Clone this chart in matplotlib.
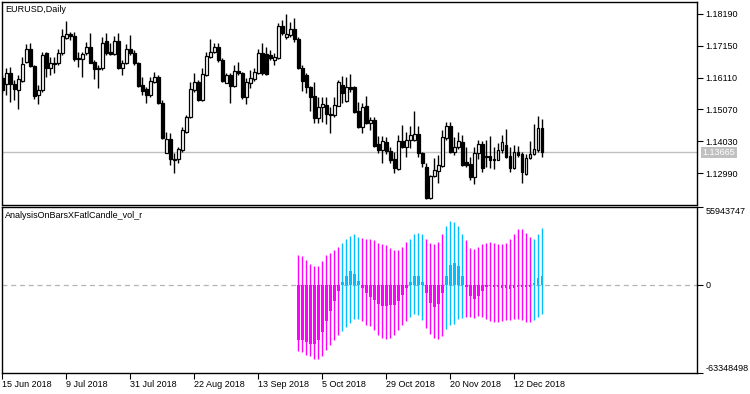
import numpy as np
import matplotlib
matplotlib.use("Agg")
import matplotlib.pyplot as plt

plt.rcParams['font.family'] = ['Liberation Sans', 'DejaVu Sans']
plt.rcParams['font.size'] = 6.5

# EURUSD daily candles, 15 Jun 2018 .. 21 Dec 2018
opens = [1.1609, 1.1590, 1.1625, 1.1590, 1.1571, 1.1600, 1.1663, 1.1703, 1.1649, 1.1554,
         1.1571, 1.1690, 1.1641, 1.1660, 1.1658, 1.1690, 1.1739, 1.1754, 1.1747, 1.1674,
         1.1671, 1.1690, 1.1712, 1.1663, 1.1641, 1.1641, 1.1731, 1.1695, 1.1688, 1.1732,
         1.1641, 1.1658, 1.1703, 1.1693, 1.1658, 1.1587, 1.1573, 1.1554, 1.1598, 1.1614,
         1.1527, 1.1365, 1.1409, 1.1344, 1.1344, 1.1374, 1.1434, 1.1481, 1.1571, 1.1598,
         1.1538, 1.1620, 1.1679, 1.1696, 1.1712, 1.1669, 1.1594, 1.1620, 1.1583, 1.1634,
         1.1627, 1.1549, 1.1594, 1.1606, 1.1627, 1.1693, 1.1688, 1.1685, 1.1669, 1.1674,
         1.1780, 1.1745, 1.1750, 1.1769, 1.1736, 1.1641, 1.1620, 1.1579, 1.1551, 1.1478,
         1.1514, 1.1521, 1.1492, 1.1489, 1.1518, 1.1587, 1.1536, 1.1579, 1.1579, 1.1503,
         1.1448, 1.1518, 1.1464, 1.1472, 1.1394, 1.1374, 1.1399, 1.1372, 1.1344, 1.1311,
         1.1405, 1.1385, 1.1407, 1.1407, 1.1427, 1.1365, 1.1320, 1.1217, 1.1289, 1.1307,
         1.1322, 1.1412, 1.1453, 1.1369, 1.1383, 1.1399, 1.1336, 1.1329, 1.1285, 1.1365,
         1.1394, 1.1354, 1.1354, 1.1344, 1.1342, 1.1374, 1.1390, 1.1354, 1.1314, 1.1369,
         1.1361, 1.1295, 1.1347, 1.1361, 1.1374, 1.1445]
highs = [1.1620, 1.1641, 1.1647, 1.1603, 1.1620, 1.1677, 1.1721, 1.1725, 1.1652, 1.1587,
         1.1696, 1.1696, 1.1677, 1.1679, 1.1706, 1.1769, 1.1797, 1.1761, 1.1761, 1.1696,
         1.1696, 1.1728, 1.1756, 1.1669, 1.1652, 1.1743, 1.1756, 1.1723, 1.1747, 1.1756,
         1.1669, 1.1721, 1.1750, 1.1701, 1.1663, 1.1614, 1.1579, 1.1612, 1.1630, 1.1620,
         1.1538, 1.1434, 1.1431, 1.1364, 1.1385, 1.1448, 1.1489, 1.1598, 1.1627, 1.1603,
         1.1641, 1.1696, 1.1736, 1.1723, 1.1723, 1.1674, 1.1627, 1.1627, 1.1652, 1.1663,
         1.1630, 1.1609, 1.1636, 1.1641, 1.1703, 1.1725, 1.1712, 1.1701, 1.1693, 1.1788,
         1.1799, 1.1819, 1.1794, 1.1805, 1.1743, 1.1652, 1.1625, 1.1583, 1.1598, 1.1549,
         1.1547, 1.1547, 1.1514, 1.1547, 1.1603, 1.1616, 1.1612, 1.1623, 1.1583, 1.1532,
         1.1529, 1.1551, 1.1483, 1.1481, 1.1420, 1.1420, 1.1418, 1.1385, 1.1369, 1.1423,
         1.1457, 1.1434, 1.1453, 1.1503, 1.1453, 1.1369, 1.1331, 1.1292, 1.1347, 1.1358,
         1.1440, 1.1467, 1.1467, 1.1418, 1.1434, 1.1423, 1.1385, 1.1353, 1.1385, 1.1407,
         1.1403, 1.1407, 1.1420, 1.1385, 1.1396, 1.1423, 1.1442, 1.1385, 1.1390, 1.1387,
         1.1369, 1.1361, 1.1403, 1.1459, 1.1486, 1.1475]
lows = [1.1560, 1.1554, 1.1532, 1.1538, 1.1507, 1.1598, 1.1660, 1.1647, 1.1540, 1.1525,
        1.1565, 1.1614, 1.1620, 1.1627, 1.1652, 1.1685, 1.1736, 1.1734, 1.1666, 1.1647,
        1.1614, 1.1685, 1.1658, 1.1606, 1.1576, 1.1636, 1.1685, 1.1685, 1.1685, 1.1638,
        1.1620, 1.1656, 1.1685, 1.1652, 1.1579, 1.1554, 1.1529, 1.1549, 1.1592, 1.1525,
        1.1409, 1.1363, 1.1326, 1.1300, 1.1331, 1.1369, 1.1431, 1.1478, 1.1565, 1.1536,
        1.1536, 1.1616, 1.1674, 1.1693, 1.1663, 1.1598, 1.1592, 1.1529, 1.1579, 1.1620,
        1.1540, 1.1525, 1.1576, 1.1601, 1.1623, 1.1620, 1.1620, 1.1669, 1.1652, 1.1671,
        1.1750, 1.1736, 1.1743, 1.1728, 1.1638, 1.1568, 1.1562, 1.1503, 1.1464, 1.1464,
        1.1467, 1.1459, 1.1431, 1.1483, 1.1517, 1.1529, 1.1532, 1.1565, 1.1496, 1.1445,
        1.1431, 1.1459, 1.1440, 1.1385, 1.1365, 1.1333, 1.1361, 1.1333, 1.1300, 1.1309,
        1.1380, 1.1353, 1.1380, 1.1405, 1.1353, 1.1320, 1.1213, 1.1213, 1.1285, 1.1265,
        1.1320, 1.1407, 1.1364, 1.1358, 1.1376, 1.1322, 1.1320, 1.1276, 1.1263, 1.1344,
        1.1303, 1.1320, 1.1314, 1.1311, 1.1340, 1.1365, 1.1347, 1.1303, 1.1311, 1.1353,
        1.1268, 1.1292, 1.1344, 1.1358, 1.1369, 1.1353]
closes = [1.1571, 1.1625, 1.1590, 1.1573, 1.1606, 1.1656, 1.1703, 1.1649, 1.1552, 1.1571,
          1.1685, 1.1641, 1.1660, 1.1656, 1.1690, 1.1747, 1.1754, 1.1747, 1.1671, 1.1671,
          1.1688, 1.1712, 1.1660, 1.1638, 1.1638, 1.1723, 1.1693, 1.1688, 1.1732, 1.1641,
          1.1658, 1.1706, 1.1690, 1.1658, 1.1583, 1.1568, 1.1554, 1.1601, 1.1612, 1.1527,
          1.1412, 1.1409, 1.1344, 1.1342, 1.1376, 1.1440, 1.1483, 1.1573, 1.1598, 1.1538,
          1.1623, 1.1682, 1.1696, 1.1712, 1.1669, 1.1601, 1.1620, 1.1583, 1.1634, 1.1625,
          1.1549, 1.1598, 1.1609, 1.1630, 1.1693, 1.1625, 1.1623, 1.1674, 1.1677, 1.1780,
          1.1756, 1.1754, 1.1769, 1.1736, 1.1641, 1.1601, 1.1579, 1.1547, 1.1478, 1.1514,
          1.1525, 1.1492, 1.1490, 1.1521, 1.1598, 1.1560, 1.1579, 1.1573, 1.1499, 1.1450,
          1.1514, 1.1464, 1.1472, 1.1387, 1.1374, 1.1405, 1.1372, 1.1342, 1.1314, 1.1403,
          1.1385, 1.1407, 1.1423, 1.1427, 1.1364, 1.1333, 1.1217, 1.1289, 1.1309, 1.1325,
          1.1416, 1.1453, 1.1369, 1.1385, 1.1403, 1.1325, 1.1325, 1.1285, 1.1365, 1.1394,
          1.1314, 1.1350, 1.1342, 1.1342, 1.1374, 1.1399, 1.1353, 1.1314, 1.1369, 1.1358,
          1.1303, 1.1347, 1.1361, 1.1376, 1.1445, 1.13665]

# indicator (millions), starts at bar 74
ind_start = 74
ind_hi = [21.1, 20.4, 18.2, 15.1, 13.2, 13.9, 16.8, 21.1, 23.2, 24.9,
          27.5, 30.4, 32.6, 35.4, 36.2, 34.7, 34.0, 33.3, 33.3, 31.9,
          30.4, 29.0, 28.3, 26.8, 24.7, 24.7, 27.5, 31.1, 33.3, 36.2,
          37.6, 36.2, 33.3, 30.4, 29.0, 31.1, 36.2, 42.6, 46.2, 45.5,
          42.6, 36.9, 31.9, 26.8, 26.1, 27.5, 29.0, 30.4, 31.1, 29.9,
          29.0, 29.0, 30.4, 33.3, 36.9, 39.8, 39.8, 37.6, 34.7, 33.3,
          36.2, 41.2]
ind_lo = [-47.2, -47.9, -50.1, -51.3, -53.4, -53.4, -50.8, -46.9, -43.3, -39.8,
          -36.2, -33.5, -30.4, -27.1, -24.9, -24.9, -26.1, -28.5, -29.9, -32.6,
          -36.2, -38.3, -39.0, -38.3, -35.7, -32.1, -28.5, -26.3, -22.8, -21.3,
          -22.0, -25.4, -31.1, -35.4, -38.3, -39.0, -36.9, -31.9, -29.0, -27.8,
          -24.9, -24.0, -23.2, -23.2, -24.0, -22.5, -23.2, -24.9, -26.1, -26.8,
          -26.8, -26.1, -25.4, -25.4, -24.7, -24.7, -25.4, -26.8, -26.8, -25.4,
          -23.2, -21.1]
ind_body = [-39.3, -39.8, -41.2, -42.2, -42.2, -39.8, -34.0, -26.1, -18.9, -11.7,
            -4.6, 1.7, 6.7, 9.6, 8.1, 3.1, -2.4, -6.0, -8.9, -11.0,
            -13.9, -15.3, -15.3, -14.6, -14.6, -11.7, -7.4, -2.4, 2.4, 6.0,
            6.0, 2.4, -6.0, -13.2, -16.0, -13.9, -6.0, 6.7, 14.6, 16.0,
            13.2, 6.7, -1.2, -8.1, -10.3, -8.1, -4.6, -1.9, -0.5, -1.2,
            -1.9, -2.4, -2.4, -3.1, -2.4, -1.2, -1.2, -1.9, -1.2, 1.0,
            4.6, 6.7]

date_labels = ["15 Jun 2018", "9 Jul 2018", "31 Jul 2018", "22 Aug 2018", "13 Sep 2018",
               "5 Oct 2018", "29 Oct 2018", "20 Nov 2018", "12 Dec 2018"]
price_ticks = [1.18190, 1.17150, 1.16110, 1.15070, 1.14030, 1.12990]
ind_ticks = [55943747, 0, -63348498]

W, H = 750, 394
fig = plt.figure(figsize=(W / 100, H / 100), dpi=100)
ax1 = fig.add_axes([2 / W, 1 - 204.5 / H, 695 / W, 202.5 / H])
ax2 = fig.add_axes([2 / W, 1 - 373 / H, 695 / W, 166 / H])

o = np.array(opens); h = np.array(highs); l = np.array(lows); c = np.array(closes)
x = np.arange(len(o))
up = c >= o

# candles
ax1.vlines(x, l, h, color='black', lw=1, zorder=1)
ax1.bar(x, np.maximum(np.abs(c - o), 0.00004), bottom=np.minimum(o, c), width=0.62,
        color=np.where(up, 'white', 'black'), edgecolor='black', linewidth=0.9, zorder=2)
ax1.axhline(closes[-1], color='#C0C0C0', lw=1, zorder=0)

ax1.set_xlim(-0.1, 173.7)
ax1.set_ylim(1.11961, 1.18582)
ax1.set_xticks([])
ax1.yaxis.tick_right()
ax1.set_yticks(price_ticks)
ax1.set_yticklabels([f"{v:.5f}" for v in price_ticks])
ax1.tick_params(axis='y', length=4, width=0.8, pad=2, labelsize=6.5)
ax1.text(0.005, 0.985, "EURUSD,Daily", transform=ax1.transAxes, va='top', ha='left', fontsize=6.5)
ax1.text(1.008, closes[-1], f"{closes[-1]:.5f}", transform=ax1.get_yaxis_transform(),
         va='center', ha='left', fontsize=6.5, color='white',
         bbox=dict(boxstyle='square,pad=0.15', fc='#C0C0C0', ec='none'))

# indicator
xi = np.arange(ind_start, ind_start + len(ind_body))
hi = np.array(ind_hi) * 1e6
lo = np.array(ind_lo) * 1e6
body = np.array(ind_body) * 1e6
cols = np.where(body >= 0, '#00BFFF', '#FF00FF')
ax2.axhline(0, color='#B4B4B4', lw=0.9, ls=(0, (4, 3)), zorder=0)
ax2.vlines(xi, lo, hi, colors=cols, lw=1, zorder=1)
ax2.bar(xi, body, width=0.62, color=cols, linewidth=0, zorder=2)

ax2.set_xlim(-0.1, 173.7)
ax2.set_ylim(-63348498, 55943747)
ax2.yaxis.tick_right()
ax2.set_yticks(ind_ticks)
ax2.set_yticklabels([str(v) for v in ind_ticks])
ax2.tick_params(axis='y', length=4, width=0.8, pad=2, labelsize=6.5)
ylabs = ax2.get_yticklabels()
ylabs[0].set_va('top')
ylabs[-1].set_va('bottom')
ax2.set_xticks(np.arange(len(date_labels)) * 16)
ax2.set_xticklabels(date_labels, ha='left')
ax2.tick_params(axis='x', length=4, width=0.8, pad=1, labelsize=6.5)
ax2.text(0.005, 0.975, "AnalysisOnBarsXFatlCandle_vol_r", transform=ax2.transAxes,
         va='top', ha='left', fontsize=6.5)

for ax in (ax1, ax2):
    for s in ax.spines.values():
        s.set_linewidth(1)
        s.set_color('black')

fig.savefig("out.png", dpi=100)
